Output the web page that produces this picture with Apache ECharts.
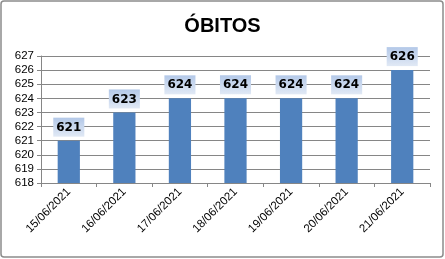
<!DOCTYPE html>
<html>
<head>
<meta charset="utf-8">
<script src="https://cdn.jsdelivr.net/npm/echarts@6/dist/echarts.min.js"></script>
<style>html,body{margin:0;padding:0;background:#fff}#c{width:445px;height:259px}</style>
</head>
<body>
<div id="c"></div>
<script>
const categories = ['15/06/2021','16/06/2021','17/06/2021','18/06/2021','19/06/2021','20/06/2021','21/06/2021'];
const obitos = [621, 623, 624, 624, 624, 624, 626];
const yMin = 618, yMax = 627, yStep = 1;
const title = 'ÓBITOS';

const chart = echarts.init(document.getElementById('c'), null, {renderer: 'canvas'});
chart.setOption({
  animation: false,
  backgroundColor: '#fff',
  title: {
    text: title, left: 'center', top: 11,
    textStyle: {fontFamily: 'Liberation Sans, Arial, sans-serif', fontSize: 20, fontWeight: 'bold', color: '#000'}
  },
  graphic: [{
    type: 'rect', shape: {x: 1, y: 1, width: 442, height: 256, r: 3},
    style: {fill: 'none', stroke: '#8c8c8c', lineWidth: 1.5}, silent: true
  }],
  grid: {left: 41, right: 15, top: 56, bottom: 76, containLabel: false},
  xAxis: {
    type: 'category', data: categories,
    axisLine: {show: true, lineStyle: {color: '#868686'}},
    axisTick: {show: true, alignWithLabel: false, length: 4, lineStyle: {color: '#868686'}},
    axisLabel: {rotate: 45, margin: 7, fontSize: 11.5, color: '#000', fontFamily: 'Liberation Sans, Arial, sans-serif'}
  },
  yAxis: {
    type: 'value', min: yMin, max: yMax, interval: yStep,
    axisLine: {show: true, lineStyle: {color: '#868686'}},
    axisTick: {show: true, length: 4, lineStyle: {color: '#868686'}},
    splitLine: {show: true, lineStyle: {color: '#868686', width: 1}},
    axisLabel: {margin: 7, fontSize: 11.5, color: '#000', fontFamily: 'Liberation Sans, Arial, sans-serif'}
  },
  series: [{
    type: 'bar', data: obitos, barWidth: '40%',
    itemStyle: {color: '#4f81bd'},
    label: {
      show: true, position: 'top', distance: 4,
      fontSize: 12, fontWeight: 'bold', color: '#000',
      fontFamily: 'DejaVu Sans, Verdana, sans-serif',
      padding: [4, 3, 3, 3],
      backgroundColor: new echarts.graphic.LinearGradient(0, 0, 0, 1, [
        {offset: 0, color: '#b3c8e8'}, {offset: 1, color: '#e1e9f5'}
      ])
    }
  }]
});
</script>
</body>
</html>
